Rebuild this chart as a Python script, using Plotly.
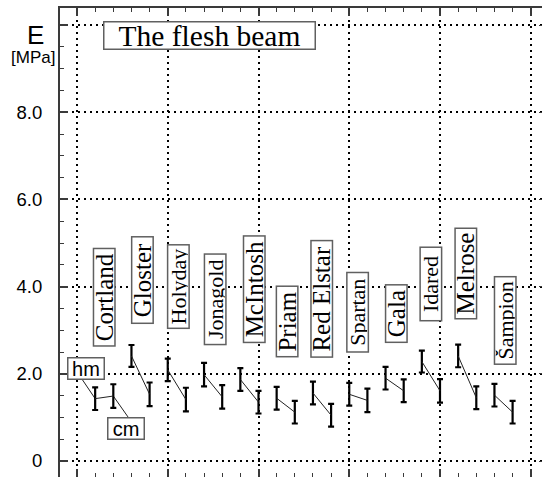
import plotly.graph_objects as go

# Young's modulus of the apple flesh beam, per cultivar
cultivars = ["Cortland", "Gloster", "Holyday", "Jonagold", "McIntosh", "Priam",
             "Red Elstar", "Spartan", "Gala", "Idared", "Melrose", "Šampion"]
e_hm = [1.43, 2.41, 2.09, 1.98, 1.87, 1.44, 1.56, 1.53, 1.90, 2.28, 2.41, 1.51]
e_cm = [1.49, 1.53, 1.41, 1.47, 1.35, 1.12, 1.05, 1.39, 1.61, 1.61, 1.45, 1.12]
err_hm = [0.26, 0.25, 0.26, 0.27, 0.26, 0.26, 0.26, 0.26, 0.26, 0.25, 0.26, 0.26]
err_cm = [0.27, 0.27, 0.27, 0.27, 0.26, 0.26, 0.26, 0.27, 0.26, 0.27, 0.26, 0.26]

y_ticks = [0, 2, 4, 6, 8, 10]
y_tick_text = ["0", "2.0", "4.0", "6.0", "8.0", ""]

# label box layout: (centre height, box length, font size, x nudge)
label_layout = [
    (3.75, 99, 25, 0.0), (4.15, 88, 25, 0.08), (4.00, 85, 22, 0.09),
    (3.72, 92, 22, 0.13), (3.94, 108, 25, 0.25), (3.19, 72, 25, 0.1),
    (3.72, 118, 25, 0.0), (3.41, 81, 22, -0.05), (3.38, 59, 25, 0.1),
    (4.07, 75, 22, 0.0), (4.31, 92, 25, -0.1), (3.22, 89, 22, 0.1),
]

SERIF = "Liberation Serif, Times New Roman, serif"
SANS = "Liberation Sans, Arial, sans-serif"
AXIS_COL = "#3a3a3a"
BOX_COL = "#606060"

fig = go.Figure()

for i, name in enumerate(cultivars):
    x_hm, x_cm = 2 * i + 1, 2 * i + 2
    fig.add_trace(go.Scatter(
        x=[x_hm, x_cm], y=[e_hm[i], e_cm[i]], mode="lines",
        line=dict(color="#222222", width=1),
        error_y=dict(type="data", array=[err_hm[i], err_cm[i]], visible=True,
                     color="black", thickness=2.2, width=3),
        showlegend=False, hoverinfo="skip", name=name,
    ))

# invisible trace so the mirrored top/right axes get drawn
fig.add_trace(go.Scatter(x=[None], y=[None], xaxis="x2", yaxis="y2",
                         showlegend=False, hoverinfo="skip"))

annotations = []
for i, name in enumerate(cultivars):
    yc, length, fsize, dx = label_layout[i]
    annotations.append(dict(
        x=2 * i + 1.5 + dx, y=yc, xref="x", yref="y", text=name,
        showarrow=False, textangle=-90, width=length - 4, height=19,
        font=dict(family=SERIF, size=fsize, color="black"),
        bgcolor="white", bordercolor=BOX_COL, borderwidth=1.5, borderpad=0.5,
        align="center", valign="middle",
    ))

# hm / cm key boxes pointing to the first pair
annotations.append(dict(x=0.5, y=2.13, xref="x", yref="y", text="hm",
                        showarrow=False, width=34, height=19,
                        font=dict(family=SANS, size=20, color="black"),
                        bgcolor="white", bordercolor=BOX_COL, borderwidth=1.5, borderpad=0.5))
annotations.append(dict(x=2.7, y=0.745, xref="x", yref="y", text="cm",
                        showarrow=False, width=34, height=19,
                        font=dict(family=SANS, size=20, color="black"),
                        bgcolor="white", bordercolor=BOX_COL, borderwidth=1.5, borderpad=0.5))

# chart title box
annotations.append(dict(x=7.30, y=9.76, xref="x", yref="y", text="The flesh beam",
                        showarrow=False, width=209, height=25,
                        font=dict(family=SERIF, size=29.5, color="black"),
                        bgcolor="white", bordercolor=BOX_COL, borderwidth=1.5, borderpad=0.5))

# axis caption, placed left of the plotting area
annotations.append(dict(x=-0.0498, y=0.942, xref="paper", yref="paper", text="E",
                        showarrow=False, xanchor="center", yanchor="middle",
                        font=dict(family=SANS, size=26, color="black")))
annotations.append(dict(x=-0.057, y=0.895, xref="paper", yref="paper", text="[MPa]",
                        showarrow=False, xanchor="center", yanchor="middle",
                        font=dict(family=SANS, size=17, color="black")))

shapes = [
    dict(type="line", xref="x", yref="y", x0=0.27, y0=1.88, x1=1, y1=e_hm[0],
         line=dict(color="#222222", width=1), layer="below"),
    dict(type="line", xref="x", yref="y", x0=2.81, y0=1.01, x1=2, y1=e_cm[0],
         line=dict(color="#222222", width=1), layer="below"),
]

x_range = [-0.937, 25.62]
y_range = [-0.367, 10.39]
grid_dash = "1.5px,4.5px"

fig.update_layout(
    width=542, height=477,
    margin=dict(l=60, r=0, t=8, b=0),
    paper_bgcolor="white", plot_bgcolor="white",
    annotations=annotations, shapes=shapes,
    xaxis=dict(range=x_range, tickmode="linear", tick0=0, dtick=5,
               ticks="inside", ticklen=8, tickwidth=1.5, tickcolor=AXIS_COL,
               showticklabels=False, showline=False, zeroline=False,
               showgrid=True, gridcolor="black", gridwidth=1.5, griddash=grid_dash,
               minor=dict(dtick=1, tick0=0, ticks="inside", ticklen=4,
                          tickwidth=1.2, tickcolor=AXIS_COL, showgrid=False)),
    xaxis2=dict(range=x_range, overlaying="x", side="top", anchor="y",
                tickmode="linear", tick0=0, dtick=5,
                ticks="inside", ticklen=8, tickwidth=1.5, tickcolor=AXIS_COL,
                showticklabels=False, showline=True, linecolor=AXIS_COL, linewidth=2,
                zeroline=False, showgrid=False,
                minor=dict(dtick=1, tick0=0, ticks="inside", ticklen=4,
                           tickwidth=1.2, tickcolor=AXIS_COL, showgrid=False)),
    yaxis=dict(range=y_range, tickmode="array", tickvals=y_ticks, ticktext=y_tick_text,
               ticks="inside", ticklen=8, tickwidth=1.5, tickcolor=AXIS_COL,
               ticklabelstandoff=12,
               tickfont=dict(family=SANS, size=18.5, color="black"),
               showline=True, linecolor=AXIS_COL, linewidth=2, zeroline=False,
               showgrid=True, gridcolor="black", gridwidth=1.5, griddash=grid_dash,
               minor=dict(dtick=0.5, tick0=0, ticks="inside", ticklen=4,
                          tickwidth=1.2, tickcolor=AXIS_COL, showgrid=False)),
    yaxis2=dict(range=y_range, overlaying="y", side="right", anchor="x",
                tickmode="array", tickvals=y_ticks, ticks="inside", ticklen=3,
                tickwidth=1.2, tickcolor=AXIS_COL, showticklabels=False,
                showline=False, zeroline=False, showgrid=False),
)

fig.write_html("out.html")
